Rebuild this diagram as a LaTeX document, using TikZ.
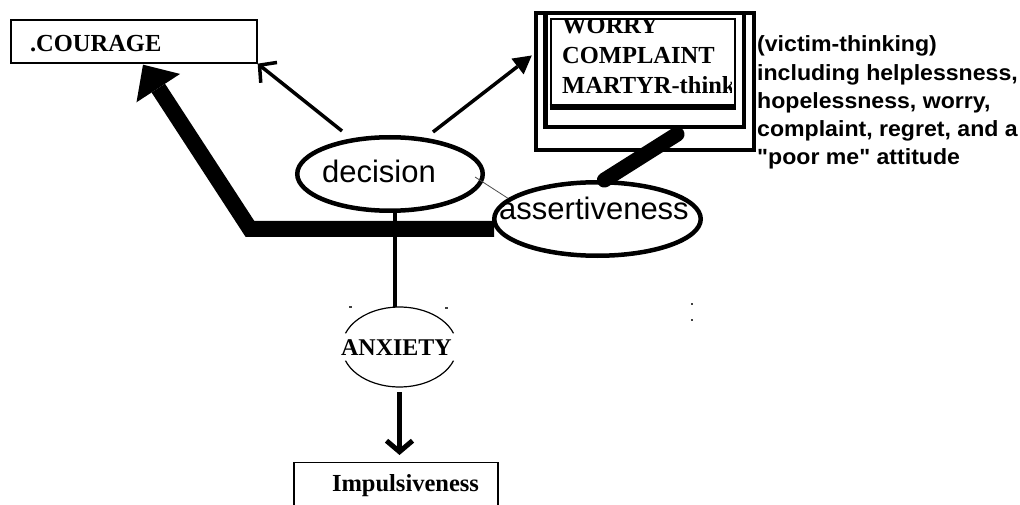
\documentclass[tikz,border=0pt]{standalone}
\usepackage{fontspec}
\setmainfont{Liberation Serif}
\newfontfamily\arialf{Liberation Sans}
\newfontfamily\sidef[FakeStretch=1.05]{Liberation Sans}
\usetikzlibrary{arrows.meta,shapes.geometric,calc}
\tikzset{
  box/.style={draw, rectangle, inner sep=0pt, text height=0pt, text depth=0pt, line width=1.3pt,
    font=\bfseries\fontsize{24.5}{28}\selectfont},
  oval/.style={draw, ellipse, inner sep=0pt, line width=4.5pt, text height=0pt, text depth=0pt,
    font=\arialf\fontsize{31}{31}\selectfont},
  arr/.style={line width=3.5pt},
  band/.style={line width=16pt, line join=miter},
  speck/.style={fill=black!75}
}
\begin{document}
\begin{tikzpicture}[x=1pt,y=-1pt]
\useasboundingbox (0,0) rectangle (1020,505);
\clip (0,0) rectangle (1020,505);

% nodes
\node[box, minimum width=246pt, minimum height=43pt] (cour) at (134,41.5)
  {\raisebox{-10.5pt}{\makebox[0pt][l]{\hspace*{-104pt}.COURAGE}}};
\node[oval, minimum width=185.5pt, minimum height=73.5pt] (dec) at (390,174)
  {\raisebox{-9pt}{\makebox[0pt]{decision\hspace*{22pt}}}};
\node[oval, minimum width=206.5pt, minimum height=73.5pt] (ass) at (597.5,219)
  {\raisebox{-1pt}{\makebox[0pt]{assertiveness\hspace*{7pt}}}};
\node[ellipse, inner sep=0pt, minimum width=115pt, minimum height=80pt, text height=0pt, text depth=0pt,
  font=\bfseries\fontsize{24}{24}\selectfont] (anx) at (399.5,347)
  {\raisebox{-8pt}{\makebox[0pt]{\hspace*{-6pt}ANXIETY}}};
\node[box, minimum width=204pt, minimum height=60pt, anchor=north] (imp) at (396,462)
  {\raisebox{1pt}{\makebox[0pt][l]{\hspace*{-64pt}Impulsiveness}}};
\node[draw, line width=4.5pt, inner sep=0pt, minimum width=218pt, minimum height=137pt] (worry) at (645,81.5) {};

% inner frames of the WORRY box
\draw[line width=4.5pt] (545.5,13) rectangle (744,127);
\draw[line width=2pt] (550.5,19) rectangle (735,106);
\draw[line width=6pt] (549.5,107.5) -- (736,107.5);
\begin{scope}
  \clip (551.5,21) rectangle (731,105);
  \node[anchor=base west, align=left, inner sep=0pt,
    font=\bfseries\fontsize{24.5}{30}\selectfont] (wtext) at (562,94)
    {WORRY\\COMPLAINT\\MARTYR-think};
\end{scope}

\node[anchor=base west, align=left, inner sep=0pt,
  font=\sidef\bfseries\fontsize{22}{28.25}\selectfont] (side) at (757,165)
  {(victim-thinking)\\including helplessness,\\hopelessness, worry,\\complaint, regret, and a\\"poor me" attitude};

% ANXIETY outline (broken at the sides)
\draw[line width=1.2pt] ($(anx.center)+({57.5*cos(20)},{-40*sin(20)})$)
  arc[start angle=20, end angle=160, x radius=57.5pt, y radius=40pt];
\draw[line width=1.2pt] ($(anx.center)+({-57.5*cos(20)},{40*sin(20)})$)
  arc[start angle=200, end angle=340, x radius=57.5pt, y radius=40pt];

% connectors
\coordinate (bend) at (250,229);
\draw[band, -{Triangle[length=28pt,width=52pt,line width=0pt]}]
  ($(ass.west)+(2,10)$) -- (bend) -- ($(cour.south)+(9,1)$);
\draw[line width=15pt, line cap=round] (ass.80) -- ($(worry.south)+(32,-18)$);
\draw[arr, -{Straight Barb[length=12pt,width=26pt]}] ($(dec.center)+(-48,-43)$) -- (cour.south east);
\draw[arr, -{Triangle[length=18pt,width=20pt,line width=0pt]}] ($(dec.center)+(43,-42)$) -- ($(worry.west)+(-2,-26)$);
\draw[line width=0.8pt, black!70] ($(dec.east)+(-10,3)$) -- (ass.167);
\draw[line width=4.5pt] ([xshift=5pt]dec.south) -- ([xshift=-4.5pt]anx.north);
\draw[line width=5pt, -{Straight Barb[length=11pt,width=26pt]}] ($(anx.south)+(0,5)$) -- ($(anx.south |- imp.north)+(0,-7)$);

% small specks
\fill[speck] (348.5,306) rectangle (351.5,308);
\fill[speck] (444.5,307) rectangle (447.5,309);
\fill[speck] (691,303) rectangle (693,305);
\fill[speck] (691,319) rectangle (693,321);
\end{tikzpicture}
\end{document}
